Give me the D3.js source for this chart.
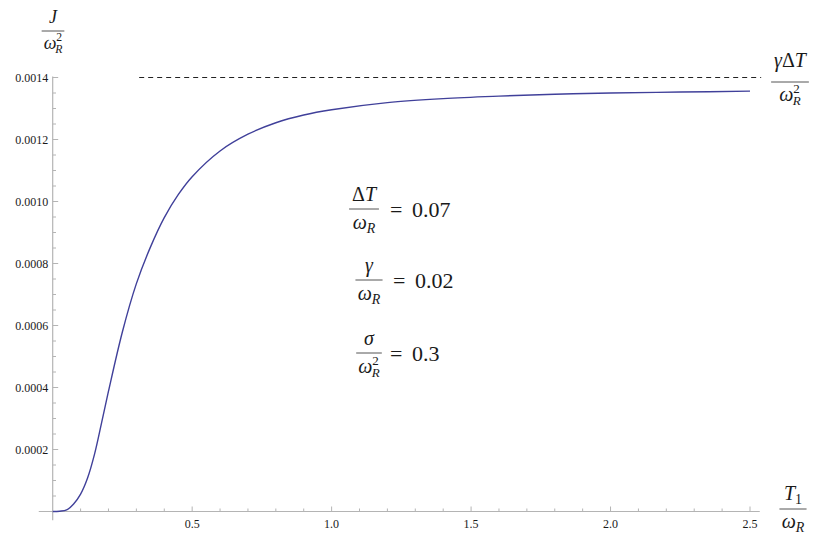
<!DOCTYPE html>
<html>
<head>
<meta charset="utf-8">
<script src="https://cdn.jsdelivr.net/npm/d3@7"></script>
<style>
  html, body { margin: 0; padding: 0; background: #fff; }
  svg { display: block; }
</style>
</head>
<body>
<svg id="chart" width="826" height="542"></svg>
<script>
// ---- data ----
const T1 = [0, 0.025, 0.05, 0.075, 0.1, 0.125, 0.15, 0.175, 0.2, 0.25, 0.3, 0.35, 0.4, 0.45, 0.5, 0.6, 0.7, 0.8, 0.9, 1.0, 1.2, 1.4, 1.6, 1.8, 2.0, 2.25, 2.5];
const J   = [0, 0.000001, 0.000005, 0.000024, 0.000056, 0.000108, 0.000185, 0.000285, 0.000388, 0.000580, 0.000735, 0.000852, 0.000948, 0.001022, 0.001080, 0.001163, 0.001217, 0.001254, 0.001279, 0.001296, 0.001319, 0.001332, 0.001340, 0.001346, 0.001350, 0.001353, 0.001356];
const asymptote = 0.0014;
const asymptoteSpan = [0.31, 2.54];
const xTicks = [0.5, 1.0, 1.5, 2.0, 2.5];
const yTicks = [0.0002, 0.0004, 0.0006, 0.0008, 0.0010, 0.0012, 0.0014];
const paramValues = ["0.07", "0.02", "0.3"];

// pick an installed serif font if any
function pickSerif() {
  const c = document.createElement("canvas").getContext("2d");
  const sample = "0.0014 JγΔTωσ mmmWWiil";
  const cands = ["Liberation Serif", "DejaVu Serif", "Times New Roman", "Tinos", "Noto Serif", "FreeSerif", "Nimbus Roman", "Times", "Georgia"];
  for (const f of cands) {
    let differs = false;
    for (const base of ["monospace", "sans-serif"]) {
      c.font = "20px " + base; const w0 = c.measureText(sample).width;
      c.font = "20px \"" + f + "\", " + base; const w1 = c.measureText(sample).width;
      if (Math.abs(w0 - w1) > 0.5) differs = true;
    }
    if (differs) return "\"" + f + "\", serif";
  }
  return "serif";
}
const FONT = pickSerif();

const svg = d3.select("#chart");
const x = d3.scaleLinear().domain([0, 2.5]).range([52.7, 750]);
const y = d3.scaleLinear().domain([0, 0.0014]).range([511.5, 77.5]);

const axisColor = "#b4b4b4";
const g = svg.append("g");

// axis lines
g.append("line").attr("x1", x(-0.05)).attr("x2", x(2.535)).attr("y1", y(0)).attr("y2", y(0))
  .attr("stroke", axisColor).attr("stroke-width", 1.2);
g.append("line").attr("x1", x(0)).attr("x2", x(0)).attr("y1", y(0.0014) - 1).attr("y2", y(-0.000028))
  .attr("stroke", axisColor).attr("stroke-width", 1.2);

// x ticks
const xMinor = d3.range(1, 26).map(i => i / 10).filter(v => !xTicks.some(t => Math.abs(t - v) < 1e-9));
g.selectAll(".xminor").data(xMinor).join("line")
  .attr("x1", d => x(d)).attr("x2", d => x(d)).attr("y1", y(0)).attr("y2", y(0) - 3)
  .attr("stroke", axisColor);
g.selectAll(".xmajor").data(xTicks).join("line")
  .attr("x1", d => x(d)).attr("x2", d => x(d)).attr("y1", y(0)).attr("y2", y(0) - 5)
  .attr("stroke", axisColor);
g.selectAll(".xlab").data(xTicks).join("text")
  .style("font-family", FONT).attr("fill", "#1a1a1a")
  .attr("x", d => x(d)).attr("y", y(0) + 16).attr("text-anchor", "middle")
  .attr("font-size", 12).text(d3.format(".1f"));

// y ticks
const yMinor = d3.range(1, 29).map(i => i * 0.00005).filter(v => !yTicks.some(t => Math.abs(t - v) < 1e-10));
g.selectAll(".yminor").data(yMinor).join("line")
  .attr("x1", x(0)).attr("x2", x(0) + 3.3).attr("y1", d => y(d)).attr("y2", d => y(d))
  .attr("stroke", axisColor);
g.selectAll(".ymajor").data(yTicks).join("line")
  .attr("x1", x(0)).attr("x2", x(0) + 5.5).attr("y1", d => y(d)).attr("y2", d => y(d))
  .attr("stroke", axisColor);
g.selectAll(".ylab").data(yTicks).join("text")
  .style("font-family", FONT).attr("fill", "#1a1a1a")
  .attr("x", x(0) - 4.5).attr("y", d => y(d) + 4).attr("text-anchor", "end")
  .attr("font-size", 12).text(d3.format(".4f"));

// asymptote
g.append("line").attr("x1", x(asymptoteSpan[0])).attr("x2", x(asymptoteSpan[1]))
  .attr("y1", y(asymptote)).attr("y2", y(asymptote))
  .attr("stroke", "#222").attr("stroke-width", 1.1).attr("stroke-dasharray", "5,4");

// curve
const pts = T1.map((t, i) => [t, J[i]]);
g.append("path").datum(pts)
  .attr("fill", "none").attr("stroke", "#40409a").attr("stroke-width", 1.4)
  .attr("d", d3.line().x(d => x(d[0])).y(d => y(d[1])).curve(d3.curveCatmullRom.alpha(0.5)));

// ---- math text helpers ----
function rich(parent, cx, baseY, parts, size) {
  const t = parent.append("text").attr("x", cx).attr("y", baseY)
    .style("font-family", FONT).attr("fill", "#1a1a1a")
    .attr("text-anchor", "middle").attr("font-size", size);
  parts.forEach(p => {
    const s = t.append("tspan").text(p.t);
    if (p.i) s.attr("font-style", "italic");
    if (p.s) s.attr("font-size", size * p.s);
    if (p.dy) s.attr("dy", p.dy);
    if (p.dx) s.attr("dx", p.dx);
  });
  return t;
}
function frac(cx, barY, num, den, size, gapN, gapD) {
  const a = rich(svg, cx, barY - gapN, num, size);
  const b = rich(svg, cx, barY + gapD, den, size);
  const w = Math.max(a.node().getBBox().width, b.node().getBBox().width) + 4;
  svg.append("line").attr("x1", cx - w / 2).attr("x2", cx + w / 2)
    .attr("y1", barY).attr("y2", barY).attr("stroke", "#555").attr("stroke-width", 1);
}
const omegaR2 = () => [{t: "ω", i: true}, {t: "2", s: 0.65, dy: -8}, {t: "R", i: true, s: 0.65, dy: 12, dx: -7}];
const omegaR = () => [{t: "ω", i: true}, {t: "R", i: true, s: 0.7, dy: 4}];
function equals(xEq, xNum, baseY, value) {
  svg.append("text").style("font-family", FONT).attr("fill", "#1a1a1a")
    .attr("x", xEq).attr("y", baseY).attr("font-size", 22).text("=");
  svg.append("text").style("font-family", FONT).attr("fill", "#1a1a1a")
    .attr("x", xNum).attr("y", baseY).attr("font-size", 22).text(value);
}

// y-axis label J / ω_R^2
frac(53, 31, [{t: "J", i: true}], omegaR2(), 18, 8, 18);
// x-axis label T1 / ω_R
frac(793, 509, [{t: "T", i: true}, {t: "1", s: 0.7, dy: 4}], omegaR(), 20, 9, 19);
// asymptote label γΔT / ω_R^2
frac(790, 82, [{t: "γ", i: true}, {t: "Δ"}, {t: "T", i: true}], omegaR2(), 20, 15, 19);

// parameter annotations
frac(364, 209, [{t: "Δ"}, {t: "T", i: true}], omegaR(), 20, 8, 20);
equals(390, 412, 217, paramValues[0]);
frac(369, 280, [{t: "γ", i: true}], omegaR(), 20, 8, 20);
equals(393, 415, 288, paramValues[1]);
frac(369, 353, [{t: "σ", i: true}], omegaR2(), 20, 8, 20);
equals(390, 412, 361, paramValues[2]);
</script>
</body>
</html>
